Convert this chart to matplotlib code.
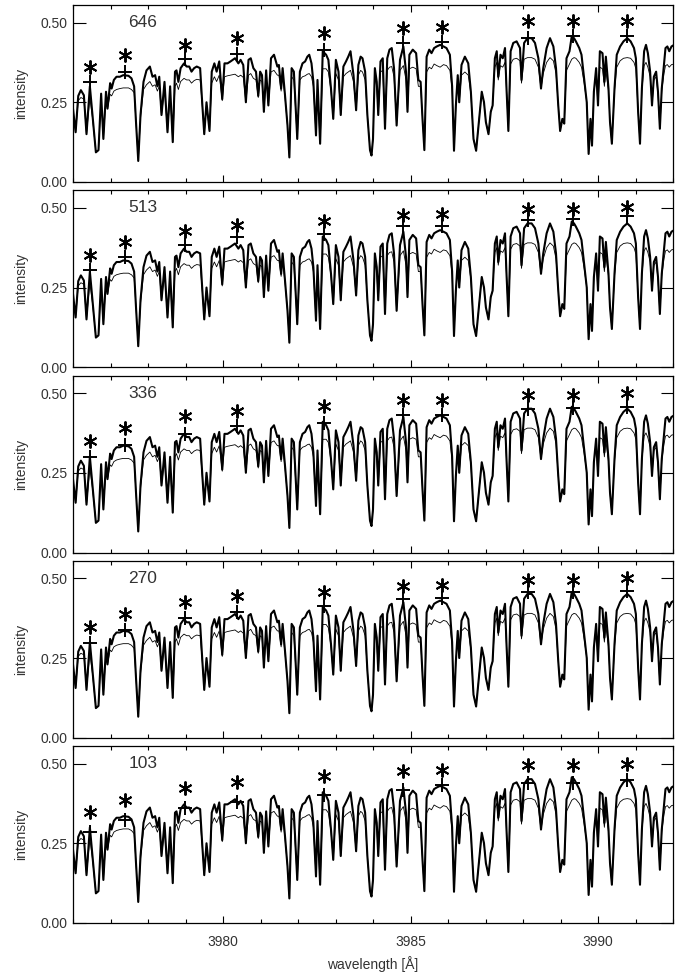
import numpy as np
import matplotlib.pyplot as plt
from matplotlib.ticker import MultipleLocator, FormatStrFormatter

plt.rcParams['font.family'] = ['Liberation Sans', 'DejaVu Sans']

# spectrum, wavelength in Angstrom
wave = [3976.00, 3976.07, 3976.14, 3976.21, 3976.29, 3976.36, 3976.45, 3976.52, 3976.61, 3976.68,
        3976.75, 3976.81, 3976.88, 3976.92, 3976.99, 3977.03, 3977.09, 3977.16, 3977.25, 3977.34,
        3977.48, 3977.56, 3977.63, 3977.68, 3977.74, 3977.80, 3977.88, 3977.96, 3978.05, 3978.12,
        3978.19, 3978.25, 3978.30, 3978.36, 3978.44, 3978.52, 3978.59,
        3978.66, 3978.72, 3978.76, 3978.81, 3978.87, 3978.96, 3979.03, 3979.10, 3979.16, 3979.23,
        3979.30, 3979.39, 3979.45, 3979.50, 3979.56, 3979.64, 3979.70, 3979.77, 3979.83, 3979.90,
        3979.98, 3980.04, 3980.12, 3980.20, 3980.32, 3980.41, 3980.47, 3980.54, 3980.61, 3980.68,
        3980.74, 3980.81, 3980.88, 3980.94, 3980.99, 3981.04, 3981.09, 3981.15, 3981.21, 3981.28,
        3981.36,
        3981.45, 3981.49, 3981.55, 3981.59, 3981.65, 3981.72, 3981.77, 3981.83, 3981.89, 3981.98,
        3982.05, 3982.12, 3982.19, 3982.25, 3982.30, 3982.36, 3982.41, 3982.48, 3982.52, 3982.59,
        3982.66, 3982.75, 3982.81, 3982.88, 3982.94, 3983.01, 3983.08, 3983.14, 3983.21, 3983.28,
        3983.34, 3983.40, 3983.48, 3983.55, 3983.61, 3983.67, 3983.72, 3983.79, 3983.85, 3983.92,
        3983.96,
        3984.00, 3984.05, 3984.10, 3984.14, 3984.20, 3984.26, 3984.32, 3984.38, 3984.44, 3984.50,
        3984.56, 3984.63, 3984.72, 3984.81, 3984.88, 3984.92, 3984.97, 3985.06, 3985.15, 3985.21,
        3985.27, 3985.32, 3985.37, 3985.43, 3985.50, 3985.56, 3985.63, 3985.70, 3985.79, 3985.88,
        3985.96, 3986.05, 3986.11, 3986.16, 3986.21, 3986.26, 3986.30, 3986.36, 3986.45, 3986.54,
        3986.61, 3986.68,
        3986.75, 3986.84, 3986.90, 3986.96, 3987.01, 3987.08, 3987.14, 3987.19, 3987.25, 3987.30,
        3987.34, 3987.40, 3987.46, 3987.52, 3987.56, 3987.61, 3987.67, 3987.74, 3987.83, 3987.92,
        3987.96, 3988.03, 3988.12, 3988.23, 3988.32, 3988.41, 3988.48, 3988.54, 3988.63, 3988.72,
        3988.81, 3988.88, 3988.94, 3988.99, 3989.05, 3989.10, 3989.16, 3989.24, 3989.30,
        3989.36, 3989.41, 3989.50, 3989.56, 3989.63, 3989.70, 3989.75, 3989.80, 3989.84, 3989.89,
        3989.95, 3990.00, 3990.05, 3990.12, 3990.17, 3990.21, 3990.28, 3990.32, 3990.37, 3990.44,
        3990.50, 3990.59, 3990.68, 3990.78, 3990.87, 3990.96, 3991.01, 3991.07, 3991.12, 3991.17,
        3991.23, 3991.28, 3991.33, 3991.39, 3991.44, 3991.49, 3991.55, 3991.60, 3991.65, 3991.70,
        3991.76, 3991.80, 3991.85, 3991.90, 3991.96, 3992.03]

# thick line
inten = [0.23, 0.156, 0.27, 0.288, 0.272, 0.15, 0.30, 0.21, 0.093, 0.10,
         0.277, 0.135, 0.283, 0.23, 0.31, 0.293, 0.32, 0.33, 0.33, 0.335,
         0.333, 0.325, 0.30, 0.188, 0.066, 0.21, 0.314, 0.35, 0.362, 0.33,
         0.335, 0.30, 0.33, 0.21, 0.314, 0.156, 0.30,
         0.125, 0.346, 0.35, 0.314, 0.357, 0.372, 0.362, 0.362, 0.346, 0.357,
         0.362, 0.357, 0.24, 0.15, 0.25, 0.16, 0.346, 0.372, 0.346, 0.378,
         0.26, 0.372, 0.372, 0.378, 0.388, 0.372, 0.383, 0.367, 0.25, 0.383,
         0.388, 0.357, 0.346, 0.27, 0.346, 0.335, 0.22, 0.35, 0.24, 0.388,
         0.399,
         0.362, 0.367, 0.293, 0.357, 0.277, 0.177, 0.077, 0.357, 0.346, 0.135,
         0.346, 0.372, 0.378, 0.393, 0.399, 0.372, 0.314, 0.146, 0.32, 0.12,
         0.41, 0.399, 0.383, 0.293, 0.198, 0.383, 0.346, 0.21, 0.362, 0.378,
         0.393, 0.41, 0.335, 0.225, 0.367, 0.393, 0.388, 0.346, 0.21, 0.10,
         0.083,
         0.135, 0.357, 0.314, 0.21, 0.378, 0.388, 0.167, 0.388, 0.415, 0.42,
         0.357, 0.177, 0.383, 0.425, 0.346, 0.22, 0.399, 0.415, 0.404, 0.32,
         0.314, 0.198, 0.10, 0.393, 0.415, 0.404, 0.42, 0.425, 0.43, 0.425,
         0.42, 0.399, 0.30, 0.098, 0.24, 0.335, 0.25, 0.367, 0.393, 0.372,
         0.283, 0.135,
         0.098, 0.21, 0.283, 0.25, 0.188, 0.15, 0.22, 0.24, 0.388, 0.41,
         0.33, 0.399, 0.388, 0.42, 0.293, 0.16, 0.41, 0.436, 0.441, 0.42,
         0.32, 0.436, 0.451, 0.451, 0.436, 0.388, 0.293, 0.357, 0.42, 0.451,
         0.425, 0.357, 0.24, 0.16, 0.198, 0.183, 0.388, 0.41, 0.457,
         0.451, 0.441, 0.42, 0.399, 0.325, 0.25, 0.088, 0.198, 0.114, 0.283,
         0.357, 0.24, 0.41, 0.404, 0.314, 0.393, 0.293, 0.188, 0.12, 0.293,
         0.399, 0.425, 0.441, 0.451, 0.441, 0.42, 0.388, 0.22, 0.12, 0.293,
         0.41, 0.43, 0.404, 0.346, 0.24, 0.33, 0.346, 0.283, 0.167, 0.293,
         0.367, 0.42, 0.425, 0.41, 0.425, 0.43]

# thin line
inten_thin = [0.22, 0.156, 0.255, 0.265, 0.26, 0.15, 0.265, 0.20, 0.093, 0.10,
              0.26, 0.135, 0.265, 0.23, 0.275, 0.27, 0.285, 0.29, 0.293, 0.295,
              0.295, 0.29, 0.28, 0.188, 0.066, 0.20, 0.29, 0.305, 0.315, 0.30,
              0.305, 0.285, 0.30, 0.21, 0.29, 0.156, 0.28,
              0.125, 0.30, 0.31, 0.29, 0.315, 0.325, 0.32, 0.32, 0.31, 0.318,
              0.322, 0.32, 0.235, 0.15, 0.245, 0.16, 0.31, 0.33, 0.315, 0.335,
              0.255, 0.33, 0.333, 0.335, 0.338, 0.33, 0.335, 0.328, 0.25, 0.335,
              0.34, 0.325, 0.32, 0.265, 0.32, 0.315, 0.22, 0.325, 0.24, 0.345,
              0.35,
              0.335, 0.335, 0.285, 0.33, 0.27, 0.177, 0.077, 0.33, 0.32, 0.135,
              0.32, 0.33, 0.333, 0.338, 0.34, 0.33, 0.30, 0.146, 0.30, 0.12,
              0.355, 0.355, 0.345, 0.285, 0.198, 0.34, 0.32, 0.21, 0.33, 0.34,
              0.345, 0.35, 0.315, 0.225, 0.335, 0.35, 0.345, 0.32, 0.21, 0.10,
              0.083,
              0.135, 0.33, 0.30, 0.21, 0.345, 0.35, 0.167, 0.35, 0.36, 0.362,
              0.33, 0.177, 0.35, 0.365, 0.32, 0.22, 0.355, 0.36, 0.355, 0.30,
              0.30, 0.198, 0.10, 0.345, 0.36, 0.355, 0.37, 0.365, 0.36, 0.368,
              0.365, 0.35, 0.29, 0.098, 0.24, 0.315, 0.25, 0.335, 0.345, 0.335,
              0.275, 0.135,
              0.098, 0.21, 0.28, 0.25, 0.188, 0.15, 0.22, 0.24, 0.36, 0.375,
              0.32, 0.365, 0.36, 0.375, 0.29, 0.16, 0.37, 0.385, 0.388, 0.38,
              0.31, 0.385, 0.39, 0.39, 0.385, 0.36, 0.293, 0.34, 0.375, 0.39,
              0.38, 0.34, 0.24, 0.16, 0.198, 0.183, 0.35, 0.37, 0.385,
              0.39, 0.388, 0.375, 0.36, 0.31, 0.25, 0.088, 0.198, 0.114, 0.28,
              0.33, 0.24, 0.36, 0.355, 0.30, 0.35, 0.285, 0.188, 0.12, 0.285,
              0.36, 0.38, 0.388, 0.39, 0.388, 0.375, 0.355, 0.22, 0.12, 0.285,
              0.365, 0.375, 0.36, 0.33, 0.24, 0.32, 0.33, 0.275, 0.167, 0.285,
              0.34, 0.365, 0.368, 0.36, 0.368, 0.37]

panel_labels = ['646', '513', '336', '270', '103']

# continuum windows: '+' and '*' values per panel
win_wave = [3976.44, 3977.39, 3978.99, 3980.38, 3982.68, 3984.80, 3985.84, 3988.13, 3989.34, 3990.78]
plus_vals = [
    [0.312, 0.345, 0.385, 0.400, 0.415, 0.436, 0.440, 0.451, 0.457, 0.457],
    [0.306, 0.347, 0.384, 0.409, 0.418, 0.443, 0.443, 0.463, 0.465, 0.473],
    [0.301, 0.338, 0.372, 0.396, 0.405, 0.430, 0.430, 0.450, 0.452, 0.455],
    [0.296, 0.337, 0.375, 0.395, 0.412, 0.434, 0.437, 0.456, 0.456, 0.460],
    [0.285, 0.324, 0.362, 0.379, 0.400, 0.418, 0.432, 0.440, 0.440, 0.447],
]
star_vals = [
    [0.360, 0.399, 0.430, 0.451, 0.467, 0.483, 0.485, 0.504, 0.504, 0.506],
    [0.351, 0.392, 0.428, 0.446, 0.459, 0.478, 0.480, 0.496, 0.496, 0.502],
    [0.349, 0.391, 0.427, 0.444, 0.458, 0.477, 0.478, 0.495, 0.495, 0.500],
    [0.348, 0.389, 0.425, 0.443, 0.456, 0.476, 0.479, 0.496, 0.496, 0.501],
    [0.347, 0.387, 0.424, 0.442, 0.460, 0.476, 0.479, 0.494, 0.494, 0.500],
]

W, H = 686, 974
fig = plt.figure(figsize=(W / 100, H / 100), dpi=100)

left, right = 73, 673
top0, ph, step = 5, 177, 185.25

for i in range(5):
    top = top0 + i * step
    ax = fig.add_axes([left / W, 1 - (top + ph) / H, (right - left) / W, ph / H])
    ax.plot(wave, inten, color='black', lw=1.5)
    ax.plot(wave, inten_thin, color='black', lw=0.6)
    ax.plot(win_wave, plus_vals[i], ls='none', marker='+', ms=10, mew=1.4, color='black')
    ax.plot(win_wave, star_vals[i], ls='none', marker=(6, 2, 0), ms=10, mew=1.4, color='black')
    ax.text(3977.47, 0.50, panel_labels[i], fontsize=12.5, color='#333333', va='center', ha='left')

    ax.set_xlim(3976, 3992)
    ax.set_ylim(0, 0.555)
    ax.xaxis.set_major_locator(MultipleLocator(5))
    ax.xaxis.set_minor_locator(MultipleLocator(1))
    ax.set_yticks([0, 0.25, 0.5])
    ax.yaxis.set_major_formatter(FormatStrFormatter('%.2f'))
    ax.tick_params(axis='x', which='major', direction='in', top=True, bottom=True, length=5, width=0.8)
    ax.tick_params(axis='x', which='minor', direction='in', top=True, bottom=True, length=3, width=0.8)
    ax.tick_params(axis='y', which='major', direction='in', left=True, right=True, length=9, width=0.8,
                   labelsize=10, labelcolor='#333333', pad=4)
    ax.set_ylabel('intensity', fontsize=10, color='#333333', labelpad=9)
    if i < 4:
        ax.tick_params(axis='x', labelbottom=False)
    else:
        ax.tick_params(axis='x', labelsize=10, labelcolor='#333333', pad=9)
        ax.set_xlabel('wavelength [Å]', fontsize=10, color='#333333', labelpad=5)
    for s in ax.spines.values():
        s.set_linewidth(0.9)

fig.savefig('out.png', dpi=100)
